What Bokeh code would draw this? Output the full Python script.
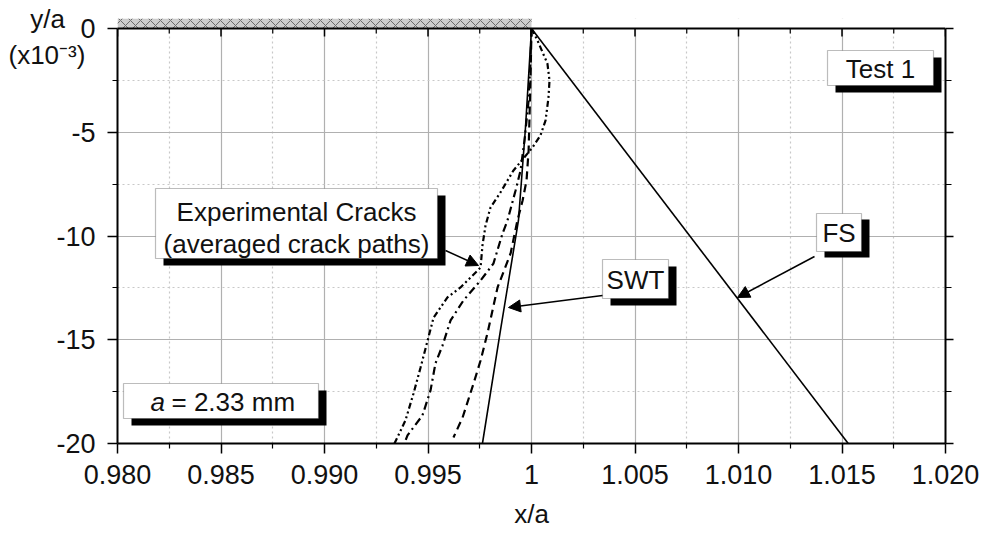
from bokeh.plotting import figure
from bokeh.models import (Range1d, LinearAxis, FixedTicker, Span, Label, Title, Grid,
                          BoxAnnotation, Arrow, NormalHead)
from bokeh.embed import file_html
from bokeh.resources import INLINE

# ---------------- data ----------------
x_ticks = [0.980, 0.985, 0.990, 0.995, 1.000, 1.005, 1.010, 1.015, 1.020]
x_tick_labels = ["0.980", "0.985", "0.990", "0.995", "1", "1.005", "1.010", "1.015", "1.020"]
x_minor = [0.9825, 0.9875, 0.9925, 0.9975, 1.0025, 1.0075, 1.0125, 1.0175]
y_ticks = [0, -5, -10, -15, -20]
y_tick_labels = ["0", "-5", "-10", "-15", "-20"]
y_minor = [-2.5, -7.5, -12.5, -17.5]

fs_x = [1.0, 1.0153]
fs_y = [0.0, -20.0]

swt_x = [1.0, 0.99971, 0.99937, 0.99850, 0.99763]
swt_y = [0.0, -4.77, -9.25, -14.55, -20.0]

exp_dashed_x = [1.0, 0.99995, 0.99990, 0.99986, 0.99976, 0.99957, 0.99932, 0.99899,
                0.99836, 0.99787, 0.99754, 0.99720, 0.99667, 0.99623]
exp_dashed_y = [0.0, -2.51, -4.43, -5.88, -7.33, -8.29, -9.25, -10.84,
                -12.48, -14.70, -16.00, -17.11, -18.75, -19.71]

exp_dashdot_x = [1.0, 0.99995, 0.99986, 0.99966, 0.99947, 0.99923, 0.99884, 0.99860,
                 0.99816, 0.99754, 0.99671, 0.99609, 0.99570, 0.99536, 0.99512,
                 0.99473, 0.99401, 0.99386]
exp_dashdot_y = [0.0, -1.54, -3.47, -5.40, -6.84, -7.81, -9.25, -9.88,
                 -11.33, -12.14, -13.11, -14.07, -15.28, -16.14, -17.45,
                 -18.65, -19.61, -20.0]

exp_dotted_x = [1.0, 1.00029, 1.00077, 1.00087, 1.00082, 1.00068, 1.00043, 1.00005,
                0.99913, 0.99850, 0.99802, 0.99778, 0.99763, 0.99754, 0.99657,
                0.99594, 0.99527, 0.99498, 0.99464, 0.99430, 0.99391, 0.99338]
exp_dotted_y = [0.0, -0.58, -1.69, -2.51, -3.33, -4.43, -5.16, -5.73,
                -6.84, -7.90, -8.63, -9.49, -10.46, -11.52, -12.48,
                -12.96, -13.93, -15.04, -16.34, -17.59, -18.89, -20.0]

# ---------------- figure ----------------
FONT = "Liberation Sans"
X0, X1 = 0.980, 1.020
Y_TOP = 0.482

p = figure(width=985, height=535, output_backend="svg", toolbar_location=None,
           x_range=Range1d(X0, X1), y_range=Range1d(-20, Y_TOP),
           x_axis_type=None, y_axis_type=None,
           min_border_left=117, min_border_right=40, min_border_top=18, min_border_bottom=92)
p.outline_line_color = None
p.background_fill_color = "white"


# reference-pixel -> data helpers (annotation placement only)
def fx(px):
    return X0 + (px - 117) / 20700.0


def fy(py):
    return -(py - 28) / 20.75


xt = FixedTicker(ticks=x_ticks, minor_ticks=x_minor)
yt = FixedTicker(ticks=y_ticks, minor_ticks=y_minor)


def style_axis(ax):
    ax.axis_line_width = 2
    ax.axis_line_color = "black"
    ax.major_tick_line_width = 1.5
    ax.minor_tick_line_width = 1.2
    ax.major_tick_in = 0
    ax.major_tick_out = 10
    ax.minor_tick_in = 0
    ax.minor_tick_out = 5
    ax.major_label_text_font = FONT
    ax.major_label_text_font_size = "27px"
    ax.major_label_text_color = "#111111"


bottom = LinearAxis(ticker=xt, bounds=(X0, X1),
                    major_label_overrides={t: l for t, l in zip(x_ticks, x_tick_labels)})
style_axis(bottom)
bottom.major_label_standoff = 11
bottom.axis_label = "x/a"
bottom.axis_label_text_font = FONT
bottom.axis_label_text_font_size = "26px"
bottom.axis_label_text_font_style = "normal"
bottom.axis_label_text_color = "#111111"
bottom.axis_label_standoff = 12
p.add_layout(bottom, "below")

left = LinearAxis(ticker=yt, bounds=(-20, 0),
                  major_label_overrides={t: l for t, l in zip(y_ticks, y_tick_labels)})
style_axis(left)
left.major_label_standoff = 12
p.add_layout(left, "left")

right = LinearAxis(ticker=yt, bounds=(-20, 0),
                   major_label_overrides={t: "" for t in y_ticks})
style_axis(right)
right.major_tick_out = 8
right.minor_tick_out = 6
p.add_layout(right, "right")

# y-axis title in the top-left corner (small title so the frame is not moved)
NB = "\u00a0"
ytitle = Title(text="\n" + NB * 3 + "y/a\n(x10\u207b\u00b3)", align="left", vertical_align="middle",
               offset=8 - 117, standoff=-106,
               text_font=FONT, text_font_size="26px", text_font_style="normal",
               text_color="#111111", text_line_height=1.2)
p.add_layout(ytitle, "above")

# grids
gx = Grid(dimension=0, ticker=xt)
gy = Grid(dimension=1, ticker=yt)
for g in (gx, gy):
    g.grid_line_color = "#b0b0b0"
    g.grid_line_width = 1.2
    g.minor_grid_line_color = "#c8c8c8"
    g.minor_grid_line_dash = "2 3"
    g.minor_grid_line_width = 1.2
    p.add_layout(g, "center")

# band above y = 0 : white cover + hatched clamp region
p.quad(left=[X0], right=[X1], bottom=[0], top=[Y_TOP], fill_color="white", line_color=None)
p.quad(left=[X0], right=[1.0], bottom=[0], top=[Y_TOP], fill_color="#cccccc",
       line_color=None, hatch_pattern="diagonal_cross", hatch_color="#6a6a6a",
       hatch_scale=10, hatch_weight=1)

# top edge (y = 0) with inward ticks
p.add_layout(Span(location=0, dimension="width", line_color="black", line_width=2))
p.segment(x0=x_ticks, y0=[0] * len(x_ticks), x1=x_ticks, y1=[fy(36)] * len(x_ticks),
          line_color="black", line_width=1.5)
p.segment(x0=x_minor, y0=[0] * len(x_minor), x1=x_minor, y1=[fy(33)] * len(x_minor),
          line_color="black", line_width=1.2)

# curves
p.line(fs_x, fs_y, line_color="black", line_width=1.6)
p.line(swt_x, swt_y, line_color="black", line_width=1.6)
p.line(exp_dashed_x, exp_dashed_y, line_color="black", line_width=2.2, line_dash="8 5")
p.line(exp_dashdot_x, exp_dashdot_y, line_color="black", line_width=2.2, line_dash="8 4 2 4")
p.line(exp_dotted_x, exp_dotted_y, line_color="black", line_width=2.2,
       line_dash="6 3 2 3 2 3")


# boxes with drop shadows
def shadow_box(l, r, t, b, dx=8, dy=7):
    p.add_layout(BoxAnnotation(left=fx(l + dx), right=fx(r + dx), top=fy(t + dy), bottom=fy(b + dy),
                               fill_color="black", fill_alpha=1, line_color=None))
    p.add_layout(BoxAnnotation(left=fx(l), right=fx(r), top=fy(t), bottom=fy(b),
                               fill_color="white", fill_alpha=1, line_color="#222222",
                               line_width=1.2))


def txt(px, py, s, align="center", style="normal", size="26px"):
    p.add_layout(Label(x=fx(px), y=fy(py), text=s, text_font=FONT, text_font_size=size,
                       text_align=align, text_baseline="middle", text_font_style=style,
                       text_color="#111111"))


shadow_box(827, 933, 50, 85)
txt(880, 68, "Test 1")

shadow_box(816, 861, 213, 251, dy=6)
txt(838.5, 232, "FS")

shadow_box(602, 668, 259, 298)
txt(635, 279, "SWT")

shadow_box(155, 437, 188, 258)
txt(296, 211, "Experimental Cracks")
txt(296, 243, "(averaged crack paths)")

shadow_box(123, 318, 383, 418)
txt(150, 401, "a", align="left", style="italic")
txt(171, 401, "= 2.33 mm", align="left")

# arrows
head = dict(size=12, fill_color="black", line_color="black")
p.add_layout(Arrow(end=NormalHead(**head), x_start=fx(445), y_start=fy(250),
                   x_end=fx(478), y_end=fy(265), line_width=1.5))
p.add_layout(Arrow(end=NormalHead(**head), x_start=fx(602), y_start=fy(295),
                   x_end=fx(508), y_end=fy(307), line_width=1.5))
p.add_layout(Arrow(end=NormalHead(**head), x_start=fx(814), y_start=fy(256),
                   x_end=fx(737), y_end=fy(297), line_width=1.5))

open("out.html", "w").write(file_html(p, INLINE))
